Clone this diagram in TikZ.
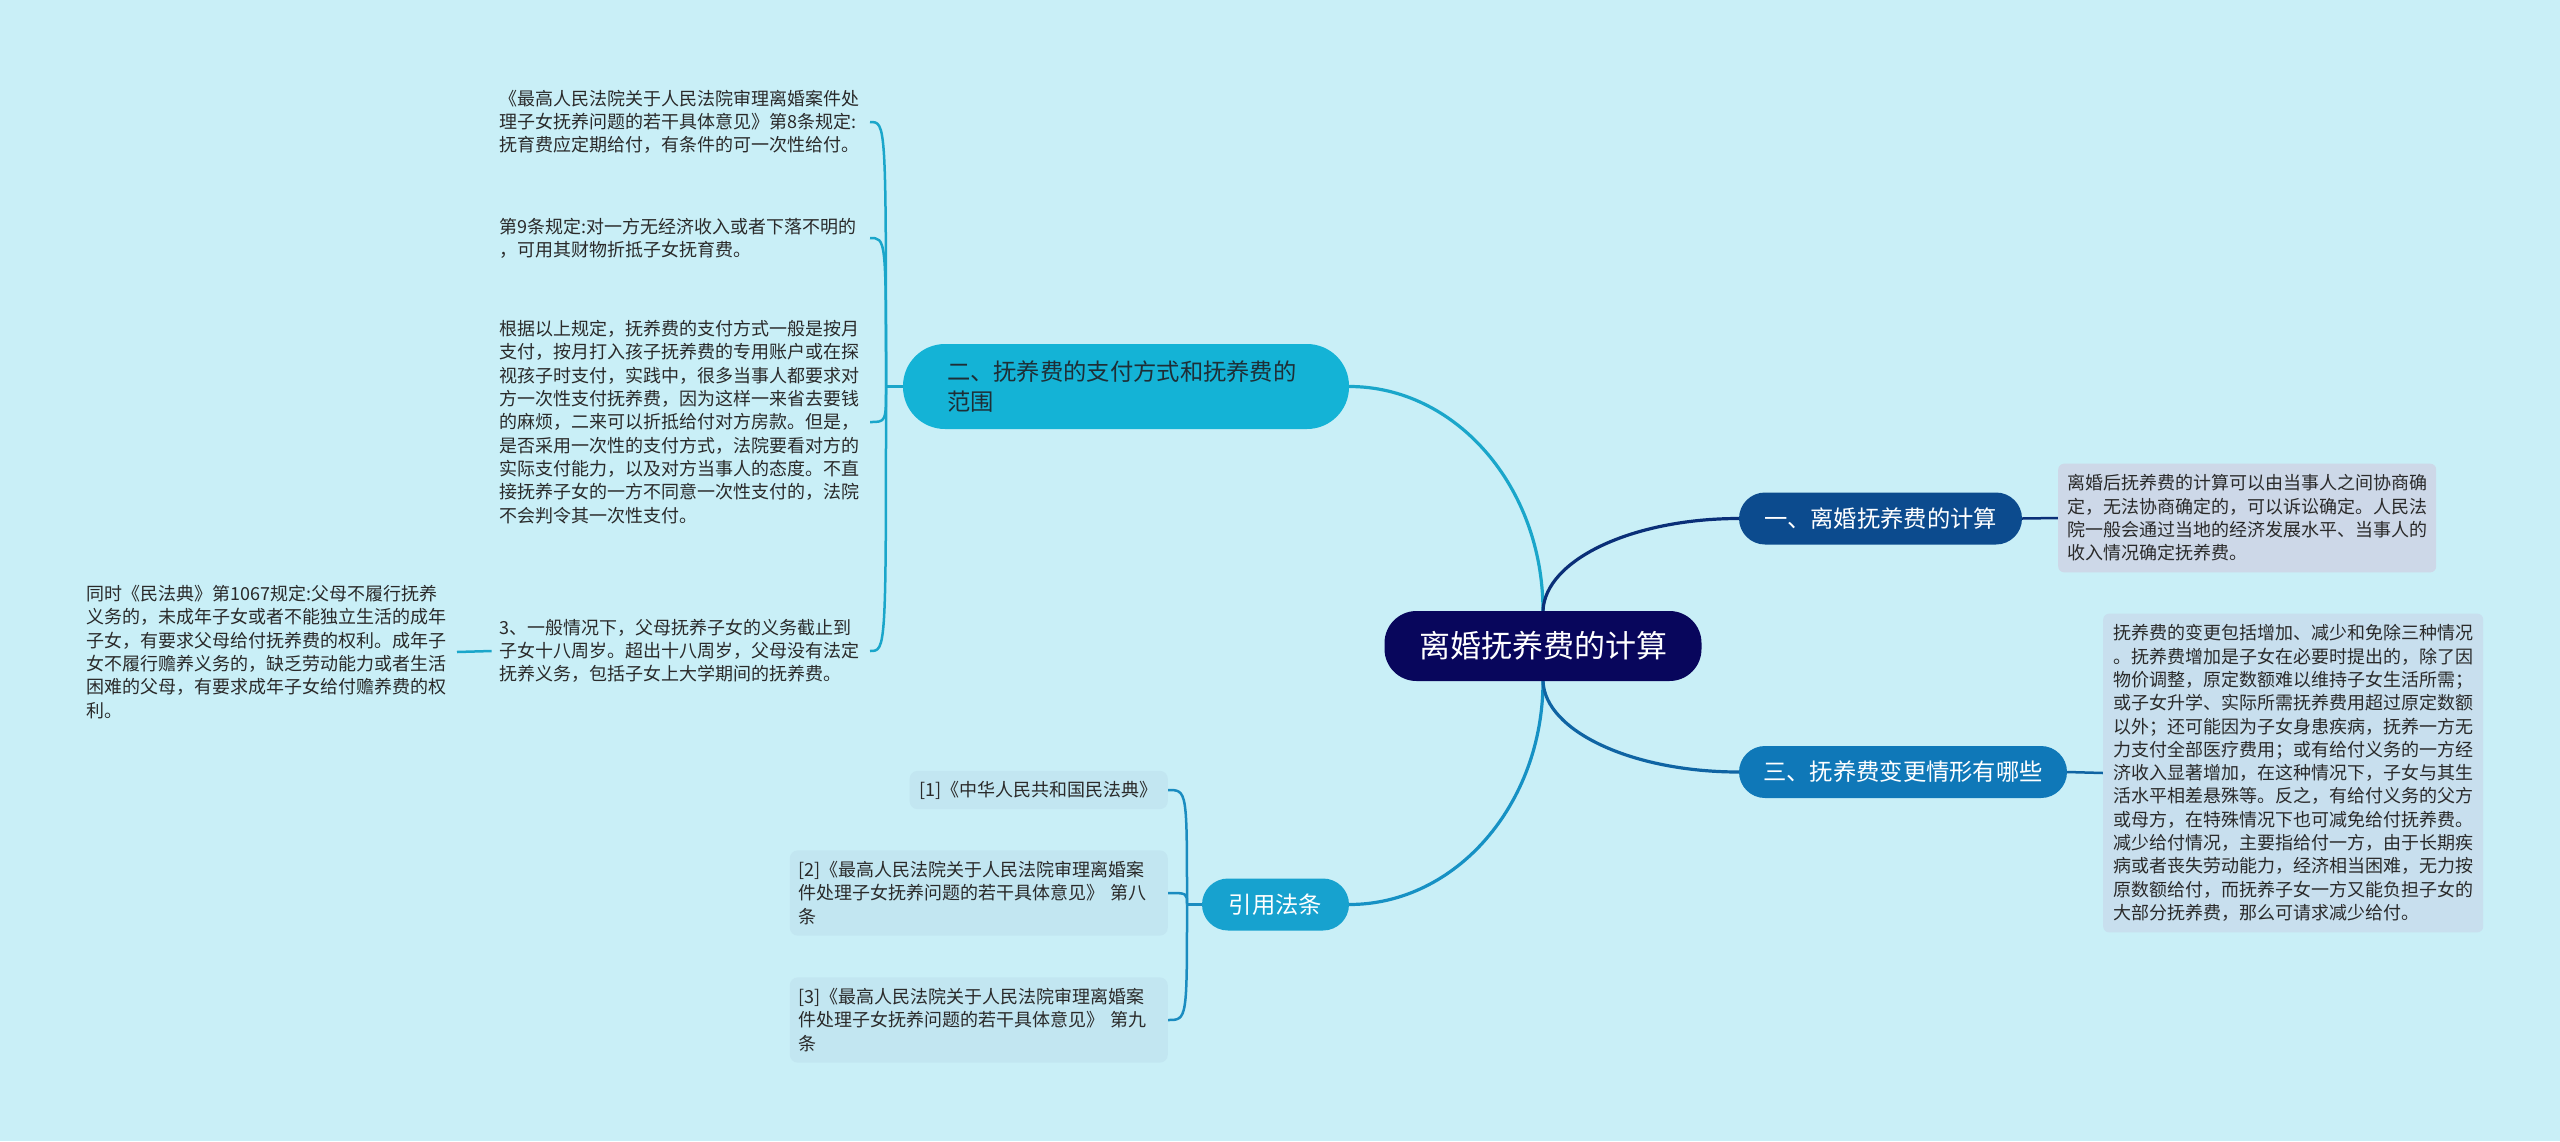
\documentclass[tikz,border=0pt]{standalone}
\usepackage{fontspec}
\setmainfont{Noto Sans CJK SC}
\usetikzlibrary{backgrounds}
\definecolor{bg}{HTML}{C9EFF7}
\definecolor{cnavy}{HTML}{08065C}
\definecolor{cone}{HTML}{0C4B8E}
\definecolor{cthree}{HTML}{0F78B8}
\definecolor{ctwo}{HTML}{14B3D6}
\definecolor{cref}{HTML}{17A2CF}
\definecolor{lone}{HTML}{0A2F78}
\definecolor{lthree}{HTML}{0F64A3}
\definecolor{ltwo}{HTML}{1AA6CA}
\definecolor{lref}{HTML}{1691C4}
\definecolor{bref}{HTML}{1A8CC0}
\definecolor{boxone}{HTML}{CDD8E8}
\definecolor{boxthree}{HTML}{C8DFEE}
\definecolor{refbg}{HTML}{C2E6F1}
\definecolor{leaftext}{HTML}{2A2A2A}
\definecolor{twotext}{HTML}{1E2E36}
\tikzset{
  centralnode/.style={rectangle, rounded corners=32pt, fill=cnavy, text=white,
    minimum width=317pt, minimum height=70pt, inner sep=0pt,
    font=\fontsize{31}{36}\selectfont},
  branchnode/.style={rectangle, rounded corners=26pt, text=white,
    minimum height=52pt, inner sep=0pt, font=\fontsize{23.3}{30}\selectfont},
  leafnode/.style={text width=362pt, align=left, inner xsep=8pt, inner ysep=0pt,
    text=leaftext, font=\fontsize{18}{23.3}\selectfont},
  rboxnode/.style={text width=360pt, align=left, inner xsep=9pt, inner ysep=11pt,
    rounded corners=6pt, text=leaftext, font=\fontsize{18}{23.3}\selectfont},
  refnode/.style={align=left, inner xsep=10pt, inner ysep=10pt, fill=refbg,
    rounded corners=8pt, text=leaftext, font=\fontsize{18}{23.3}\selectfont},
  mainline/.style={line width=3.2pt},
  subline/.style={line width=2.5pt},
}
\begin{document}
\begin{tikzpicture}[x=1pt,y=-1pt]
\useasboundingbox (0,0) rectangle (2560,1141);
\begin{scope}[on background layer]
\fill[bg] (0,0) rectangle (2560,1141);
\end{scope}

% central and branches
\node[centralnode] (cen) at (1543,646) {离婚抚养费的计算};
\node[branchnode, fill=cone, minimum width=283pt] (yi) at (1880.5,518.5) {一、离婚抚养费的计算};
\node[branchnode, fill=cthree, minimum width=328pt] (san) at (1903,772) {三、抚养费变更情形有哪些};
\node[branchnode, fill=ctwo, text=twotext, align=left, text width=358pt, inner xsep=44pt,
  minimum height=85pt, rounded corners=42pt, font=\fontsize{23.3}{30}\selectfont] (er) at (1126,386.5)
  {二、抚养费的支付方式和抚养费的\\范围};
\node[branchnode, fill=cref, minimum width=147pt] (yy) at (1275.5,904.5) {引用法条};

% right boxes
\node[rboxnode, fill=boxone, anchor=west] (t1) at (2058,518) {离婚后抚养费的计算可以由当事人之间协商确\\定，无法协商确定的，可以诉讼确定。人民法\\院一般会通过当地的经济发展水平、当事人的\\收入情况确定抚养费。};
\node[rboxnode, fill=boxthree, anchor=west, inner xsep=10pt] (t3) at (2103,773) {抚养费的变更包括增加、减少和免除三种情况\\。抚养费增加是子女在必要时提出的，除了因\\物价调整，原定数额难以维持子女生活所需；\\或子女升学、实际所需抚养费用超过原定数额\\以外；还可能因为子女身患疾病，抚养一方无\\力支付全部医疗费用；或有给付义务的一方经\\济收入显著增加，在这种情况下，子女与其生\\活水平相差悬殊等。反之，有给付义务的父方\\或母方，在特殊情况下也可减免给付抚养费。\\减少给付情况，主要指给付一方，由于长期疾\\病或者丧失劳动能力，经济相当困难，无力按\\原数额给付，而抚养子女一方又能负担子女的\\大部分抚养费，那么可请求减少给付。};

% left leaves of branch two
\node[leafnode, anchor=east] (l1) at (870,122) {《最高人民法院关于人民法院审理离婚案件处\\理子女抚养问题的若干具体意见》第8条规定:\\抚育费应定期给付，有条件的可一次性给付。};
\node[leafnode, anchor=east] (l2) at (870,238) {第9条规定:对一方无经济收入或者下落不明的\\，可用其财物折抵子女抚育费。};
\node[leafnode, anchor=east] (l3) at (870,422) {根据以上规定，抚养费的支付方式一般是按月\\支付，按月打入孩子抚养费的专用账户或在探\\视孩子时支付，实践中，很多当事人都要求对\\方一次性支付抚养费，因为这样一来省去要钱\\的麻烦，二来可以折抵给付对方房款。但是，\\是否采用一次性的支付方式，法院要看对方的\\实际支付能力，以及对方当事人的态度。不直\\接抚养子女的一方不同意一次性支付的，法院\\不会判令其一次性支付。};
\node[leafnode, anchor=east] (l4) at (870,651) {3、一般情况下，父母抚养子女的义务截止到\\子女十八周岁。超出十八周岁，父母没有法定\\抚养义务，包括子女上大学期间的抚养费。};
\node[leafnode, anchor=east] (l5) at (457,652) {同时《民法典》第1067规定:父母不履行抚养\\义务的，未成年子女或者不能独立生活的成年\\子女，有要求父母给付抚养费的权利。成年子\\女不履行赡养义务的，缺乏劳动能力或者生活\\困难的父母，有要求成年子女给付赡养费的权\\利。};

% reference leaves
\node[refnode, anchor=east] (r1) at (1168,790) {[1]《中华人民共和国民法典》};
\node[refnode, anchor=east, text width=360pt, inner xsep=9pt, inner ysep=11pt] (r2) at (1168,893) {[2]《最高人民法院关于人民法院审理离婚案\\件处理子女抚养问题的若干具体意见》 第八\\条};
\node[refnode, anchor=east, text width=360pt, inner xsep=9pt, inner ysep=11pt] (r3) at (1168,1020) {[3]《最高人民法院关于人民法院审理离婚案\\件处理子女抚养问题的若干具体意见》 第九\\条};

\coordinate (erj) at (886,386.5);
\coordinate (yyj) at (1187,904.5);

\begin{scope}[on background layer]
% main branches
\draw[mainline, ltwo] (cen.north) .. controls (1543,487) and (1456,386.5) .. (er.east);
\draw[mainline, lref] (cen.south) .. controls (1543,804) and (1456,904.5) .. (yy.east);
\draw[mainline, lone] (cen.north) .. controls (1545,560) and (1632,518.5) .. (yi.west);
\draw[mainline, lthree] (cen.south) .. controls (1545,731) and (1632,772) .. (san.west);
% right links
\draw[subline, lone] (yi.east) -- (t1.west);
\draw[subline, lthree] (san.east) -- (t3.west);
% branch two bracket
\draw[subline, ltwo] (er.west) -- (erj);
\draw[subline, ltwo] (erj) .. controls (erj |- l1.east) .. (l1.east);
\draw[subline, ltwo] (erj) .. controls (erj |- l2.east) .. (l2.east);
\draw[subline, ltwo] (erj) .. controls (erj |- l3.east) .. (l3.east);
\draw[subline, ltwo] (erj) .. controls (erj |- l4.east) .. (l4.east);
\draw[subline, ltwo] (l4.west) -- (l5.east);
% reference bracket
\draw[subline, bref] (yy.west) -- (yyj);
\draw[subline, bref] (yyj) .. controls (yyj |- r1.east) .. (r1.east);
\draw[subline, bref] (yyj) .. controls (yyj |- r2.east) .. (r2.east);
\draw[subline, bref] (yyj) .. controls (yyj |- r3.east) .. (r3.east);
\end{scope}
\end{tikzpicture}
\end{document}
